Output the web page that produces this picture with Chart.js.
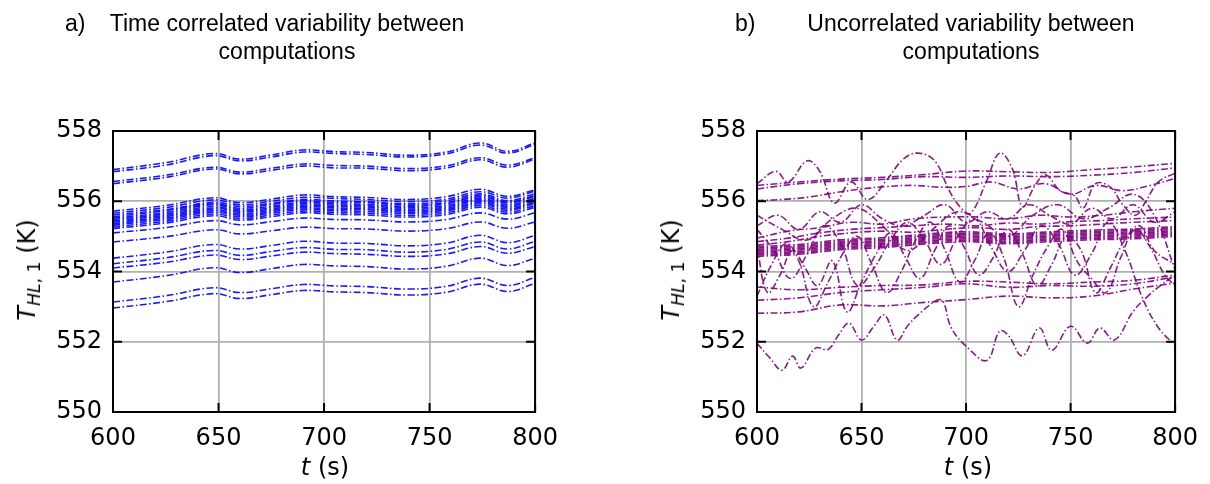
<!DOCTYPE html>
<html>
<head>
<meta charset="utf-8">
<script src="https://cdn.jsdelivr.net/npm/chart.js@4.4.1/dist/chart.umd.min.js"></script>
<style>
  body { margin: 0; background: #fff; }
  #page { position: relative; width: 1210px; height: 484px; overflow: hidden; font-family: "DejaVu Sans", sans-serif; color: #000; }
  canvas { position: absolute; top: 0; }
  .title { position: absolute; font-family: "Liberation Sans", Arial, sans-serif; font-size: 23px; line-height: 23px; white-space: nowrap; }
  .center { transform: translateX(-50%); }
  .ytitle { position: absolute; font-size: 24px; line-height: 24px; white-space: nowrap; transform: translate(-50%, -50%) rotate(-90deg); }
  .xtitle { position: absolute; font-size: 24px; line-height: 24px; white-space: nowrap; transform: translateX(-50%); }
  sub { font-size: 0.72em; vertical-align: -0.3em; line-height: 0; }
</style>
</head>
<body>
<div id="page">
  <canvas id="chartA" width="570" height="484" style="left:0"></canvas>
  <canvas id="chartB" width="590" height="484" style="left:620px"></canvas>

  <div class="title" style="left:65px; top:12px">a)</div>
  <div class="title center" style="left:287px; top:12px">Time correlated variability between</div>
  <div class="title center" style="left:287px; top:40px">computations</div>
  <div class="title" style="left:735px; top:12px">b)</div>
  <div class="title center" style="left:971px; top:12px">Uncorrelated variability between</div>
  <div class="title center" style="left:971px; top:40px">computations</div>

  <div class="ytitle" style="left:27px; top:270px"><i>T</i><sub><i>HL</i>, 1</sub> (K)</div>
  <div class="ytitle" style="left:671px; top:270px"><i>T</i><sub><i>HL</i>, 1</sub> (K)</div>
  <div class="xtitle" style="left:325px; top:455px"><i>t</i> (s)</div>
  <div class="xtitle" style="left:968px; top:455px"><i>t</i> (s)</div>
</div>

<script>
// ---- panel a: time correlated (all runs share the same wiggle) ----
const leftT = [600, 625, 648, 660, 675, 690, 705, 720, 740, 758, 774, 787, 800];

const blueTop1 = [556.90, 557.10, 557.36, 557.20, 557.32, 557.46, 557.41, 557.39, 557.31, 557.40, 557.66, 557.42, 557.66];
const blueTop2 = [556.84, 557.03, 557.30, 557.15, 557.26, 557.40, 557.36, 557.33, 557.26, 557.35, 557.60, 557.37, 557.62];
const blueTop3 = [556.56, 556.74, 556.97, 556.83, 556.94, 557.06, 557.02, 557.00, 556.93, 557.01, 557.24, 557.03, 557.24];
const blueTop4 = [556.50, 556.68, 556.92, 556.78, 556.88, 557.00, 556.95, 556.94, 556.87, 556.95, 557.18, 556.97, 557.20];

const blueBand1 = [555.72, 555.88, 556.10, 555.96, 556.06, 556.18, 556.13, 556.11, 556.05, 556.13, 556.34, 556.14, 556.33];
const blueBand2 = [555.66, 555.82, 556.04, 555.90, 556.00, 556.11, 556.08, 556.05, 555.99, 556.06, 556.27, 556.09, 556.29];
const blueBand3 = [555.61, 555.76, 555.97, 555.85, 555.94, 556.05, 556.01, 555.99, 555.93, 556.01, 556.21, 556.02, 556.22];
const blueBand4 = [555.56, 555.73, 555.93, 555.80, 555.91, 556.01, 555.97, 555.96, 555.89, 555.96, 556.17, 555.98, 556.17];
const blueBand5 = [555.52, 555.68, 555.90, 555.76, 555.86, 555.97, 555.93, 555.91, 555.85, 555.93, 556.13, 555.95, 556.14];
const blueBand6 = [555.48, 555.64, 555.85, 555.72, 555.82, 555.93, 555.89, 555.87, 555.81, 555.88, 556.09, 555.90, 556.09];
const blueBand7 = [555.44, 555.60, 555.81, 555.69, 555.78, 555.89, 555.85, 555.83, 555.77, 555.84, 556.05, 555.86, 556.06];
const blueBand8 = [555.40, 555.56, 555.77, 555.64, 555.74, 555.85, 555.81, 555.79, 555.73, 555.80, 556.01, 555.82, 556.01];
const blueBand9 = [555.36, 555.52, 555.73, 555.60, 555.70, 555.81, 555.77, 555.76, 555.69, 555.76, 555.97, 555.78, 555.97];
const blueBand10 = [555.32, 555.48, 555.69, 555.56, 555.66, 555.77, 555.73, 555.71, 555.65, 555.72, 555.93, 555.74, 555.94];
const blueBand11 = [555.27, 555.43, 555.64, 555.51, 555.61, 555.72, 555.68, 555.66, 555.60, 555.67, 555.88, 555.69, 555.88];
const blueBand12 = [555.22, 555.38, 555.59, 555.46, 555.56, 555.67, 555.63, 555.61, 555.55, 555.62, 555.83, 555.64, 555.83];

const blueLow1 = [555.10, 555.25, 555.45, 555.33, 555.42, 555.52, 555.48, 555.47, 555.41, 555.48, 555.67, 555.49, 555.67];
const blueLow2 = [554.84, 554.99, 555.19, 555.07, 555.16, 555.26, 555.22, 555.21, 555.15, 555.22, 555.41, 555.23, 555.41];
const blueLow3 = [554.38, 554.55, 554.77, 554.64, 554.74, 554.86, 554.81, 554.80, 554.73, 554.81, 555.03, 554.82, 555.03];
const blueLow4 = [554.22, 554.39, 554.60, 554.46, 554.57, 554.68, 554.63, 554.62, 554.55, 554.63, 554.84, 554.64, 554.86];
const blueLow5 = [554.10, 554.26, 554.47, 554.34, 554.44, 554.55, 554.51, 554.49, 554.43, 554.50, 554.71, 554.52, 554.71];
const blueLow6 = [553.70, 553.88, 554.11, 553.97, 554.08, 554.20, 554.16, 554.14, 554.07, 554.15, 554.38, 554.17, 554.38];
const blueLow7 = [553.13, 553.31, 553.54, 553.40, 553.51, 553.63, 553.59, 553.57, 553.50, 553.58, 553.81, 553.60, 553.83];
const blueLow8 = [552.96, 553.14, 553.37, 553.23, 553.34, 553.46, 553.42, 553.40, 553.33, 553.41, 553.64, 553.43, 553.66];

// ---- panel b: uncorrelated ----
const purpleT11 = [600, 620, 640, 660, 680, 700, 720, 740, 760, 780, 800];
const purpleTop1 = [556.45, 556.55, 556.63, 556.68, 556.76, 556.86, 556.84, 556.82, 556.90, 556.98, 557.08];
const purpleTop2 = [556.35, 556.50, 556.58, 556.62, 556.70, 556.68, 556.72, 556.70, 556.74, 556.82, 556.95];
const purpleBand1 = [554.71, 554.77, 554.90, 554.96, 555.06, 555.13, 555.07, 555.13, 555.18, 555.21, 555.28];
const purpleBand2 = [554.67, 554.73, 554.86, 554.92, 555.02, 555.09, 555.03, 555.09, 555.14, 555.17, 555.24];
const purpleBand3 = [554.63, 554.69, 554.82, 554.88, 554.98, 555.05, 554.99, 555.05, 555.10, 555.13, 555.20];
const purpleBand4 = [554.59, 554.65, 554.78, 554.84, 554.94, 555.01, 554.95, 555.01, 555.06, 555.09, 555.16];
const purpleBand5 = [554.55, 554.61, 554.74, 554.80, 554.90, 554.97, 554.91, 554.97, 555.02, 555.05, 555.12];
const purpleBand6 = [554.51, 554.57, 554.70, 554.76, 554.86, 554.93, 554.87, 554.93, 554.98, 555.01, 555.08];
const purpleBand7 = [554.47, 554.53, 554.66, 554.72, 554.82, 554.89, 554.83, 554.89, 554.94, 554.97, 555.04];
const purpleBand8 = [554.43, 554.49, 554.62, 554.68, 554.78, 554.85, 554.79, 554.85, 554.90, 554.93, 555.00];
const purpleLow1 = [553.56, 553.48, 553.55, 553.60, 553.62, 553.72, 553.70, 553.65, 553.70, 553.75, 553.90];
const purpleLow2 = [553.18, 553.25, 553.40, 553.48, 553.55, 553.65, 553.55, 553.60, 553.58, 553.65, 553.85];
const purpleLow3 = [552.81, 552.85, 553.05, 553.02, 553.12, 553.20, 553.30, 553.25, 553.30, 553.50, 553.67];

const purpleT14 = [600, 615, 630, 645, 660, 675, 690, 705, 720, 735, 750, 765, 780, 800];
const purpleMid1 = [554.95, 555.15, 555.25, 555.40, 555.35, 555.50, 555.55, 555.55, 555.50, 555.60, 555.55, 555.60, 555.70, 555.80];
const purpleMid2 = [554.85, 554.95, 555.10, 555.20, 555.25, 555.30, 555.35, 555.30, 555.38, 555.35, 555.42, 555.45, 555.50, 555.55];
const purpleMid3 = [554.75, 554.85, 555.00, 555.10, 555.15, 555.12, 555.20, 555.25, 555.20, 555.28, 555.30, 555.35, 555.40, 555.45];

const wavyTopT = [600, 612, 625, 638, 650, 662, 675, 688, 700, 712, 725, 738, 750, 762, 775, 788, 800];
const wavyTop = [556.02, 556.05, 556.12, 556.25, 556.35, 556.42, 556.45, 556.40, 556.42, 556.55, 556.35, 556.50, 556.20, 556.45, 556.30, 556.45, 556.65];

const wildTopT = [600, 609, 615, 624, 630, 637, 645, 653, 662, 670, 677, 685, 692, 697, 702, 710, 716, 722, 727, 733, 738, 745, 752, 756, 762, 769, 775, 781, 786, 792, 800];
const wildTop = [556.50, 556.85, 556.55, 557.15, 556.85, 555.95, 556.55, 556.05, 556.60, 557.20, 557.37, 557.15, 556.30, 555.85, 555.65, 556.60, 557.37, 556.95, 555.85, 556.45, 556.75, 556.30, 556.15, 555.80, 556.50, 556.40, 555.90, 555.60, 556.00, 556.55, 556.80];

const wildAT = [600, 605, 611, 617, 623, 629, 636, 643, 650, 657, 664, 671, 678, 685, 692, 699, 706, 713, 720, 727, 734, 741, 748, 755, 762, 769, 776, 783, 790, 800];
const wildA = [554.70, 553.40, 553.90, 554.60, 554.10, 553.60, 554.30, 552.85, 553.70, 554.50, 555.10, 554.40, 553.80, 554.60, 555.30, 554.70, 553.90, 554.40, 555.20, 554.50, 553.60, 554.20, 555.00, 554.60, 553.40, 554.10, 554.90, 555.30, 554.60, 554.20];

const wildBT = [600, 607, 614, 620, 627, 634, 641, 648, 655, 662, 669, 676, 683, 690, 697, 704, 711, 718, 725, 732, 739, 746, 753, 760, 767, 774, 781, 788, 795, 800];
const wildB = [553.30, 554.20, 554.80, 554.30, 553.00, 553.70, 554.50, 555.00, 554.20, 553.40, 554.00, 554.90, 555.40, 554.60, 553.70, 554.30, 555.10, 554.40, 553.00, 553.90, 554.70, 555.20, 554.30, 553.80, 553.40, 554.40, 555.20, 554.70, 553.90, 553.60];

const wildCT = [600, 608, 616, 624, 632, 640, 648, 656, 664, 672, 680, 688, 696, 704, 712, 720, 728, 736, 744, 752, 760, 768, 776, 784, 792, 800];
const wildC = [555.20, 554.60, 553.80, 554.50, 555.30, 554.80, 553.60, 554.10, 554.90, 555.40, 554.90, 554.20, 555.00, 555.50, 554.70, 554.00, 554.60, 555.30, 554.80, 553.90, 554.50, 555.40, 554.60, 553.30, 552.40, 551.90];

const wildDT = [600, 610, 620, 630, 640, 650, 660, 670, 680, 690, 700, 710, 720, 730, 740, 750, 760, 770, 780, 790, 800];
const wildD = [555.30, 555.60, 555.20, 555.70, 555.40, 555.90, 555.50, 555.30, 555.60, 555.90, 555.40, 555.70, 555.50, 555.90, 555.60, 555.35, 555.80, 555.50, 555.90, 555.40, 555.70];

const wildET = [600, 612, 624, 636, 648, 660, 672, 684, 696, 708, 720, 732, 744, 756, 768, 780, 790, 800];
const wildE = [555.60, 555.20, 554.90, 555.50, 555.80, 555.30, 554.60, 555.20, 555.70, 555.40, 555.00, 555.60, 555.90, 555.50, 555.80, 556.20, 555.60, 554.05];

const wildLowT = [600, 606, 612, 617, 621, 628, 634, 639, 644, 650, 656, 661, 667, 672, 677, 686, 689, 693, 701, 710, 716, 720, 727, 735, 741, 750, 758, 764, 771, 780, 787, 793, 800];
const wildLow = [551.96, 551.55, 551.19, 551.59, 551.25, 551.82, 551.78, 552.19, 552.53, 552.05, 552.45, 552.76, 552.05, 552.45, 552.76, 553.18, 553.15, 552.39, 551.82, 551.47, 552.30, 552.20, 551.60, 552.39, 551.76, 552.44, 551.96, 552.39, 552.05, 552.87, 553.30, 553.60, 553.90];

const leftLines = [blueTop1, blueTop2, blueTop3, blueTop4,
  blueBand1, blueBand2, blueBand3, blueBand4, blueBand5, blueBand6,
  blueBand7, blueBand8, blueBand9, blueBand10, blueBand11, blueBand12,
  blueLow1, blueLow2, blueLow3, blueLow4, blueLow5, blueLow6, blueLow7, blueLow8
].map(v => [leftT, v]);

const rightLines = [
  [purpleT11, purpleTop1], [purpleT11, purpleTop2], [wavyTopT, wavyTop], [wildTopT, wildTop],
  [purpleT14, purpleMid1], [purpleT14, purpleMid2], [purpleT14, purpleMid3],
  [purpleT11, purpleBand1], [purpleT11, purpleBand2], [purpleT11, purpleBand3], [purpleT11, purpleBand4],
  [purpleT11, purpleBand5], [purpleT11, purpleBand6], [purpleT11, purpleBand7], [purpleT11, purpleBand8],
  [purpleT11, purpleLow1], [purpleT11, purpleLow2], [purpleT11, purpleLow3],
  [wildAT, wildA], [wildBT, wildB], [wildCT, wildC], [wildDT, wildD], [wildET, wildE],
  [wildLowT, wildLow]
];

// inward tick marks on all four sides + black frame
const frameTicks = {
  id: 'frameTicks',
  afterDatasetsDraw(chart) {
    const { ctx, chartArea: a } = chart;
    const x = chart.scales.x, y = chart.scales.y;
    const len = 9;
    ctx.save();
    ctx.strokeStyle = '#000';
    ctx.lineWidth = 2;
    ctx.beginPath();
    x.ticks.forEach(t => {
      const px = x.getPixelForValue(t.value);
      ctx.moveTo(px, a.bottom); ctx.lineTo(px, a.bottom - len);
      ctx.moveTo(px, a.top); ctx.lineTo(px, a.top + len);
    });
    y.ticks.forEach(t => {
      const py = y.getPixelForValue(t.value);
      ctx.moveTo(a.left, py); ctx.lineTo(a.left + len, py);
      ctx.moveTo(a.right, py); ctx.lineTo(a.right - len, py);
    });
    ctx.stroke();
    ctx.strokeRect(a.left, a.top, a.right - a.left, a.bottom - a.top);
    ctx.restore();
  }
};

function makeChart(id, lines, color, yWidth, padRight) {
  const tickFont = { family: 'DejaVu Sans', size: 24 };
  const grid = { color: '#b0b0b0', lineWidth: 1.8, drawTicks: false };
  return new Chart(document.getElementById(id), {
    type: 'line',
    data: {
      datasets: lines.map(([times, vals]) => ({
        data: times.map((t, i) => ({ x: t, y: vals[i] })),
        borderColor: color,
        borderWidth: 1.6,
        borderDash: [7, 2.5, 1.5, 2.5],
        pointRadius: 0,
        tension: 0.4,
        fill: false
      }))
    },
    options: {
      responsive: false,
      animation: false,
      events: [],
      layout: { padding: { left: 0, top: 131, right: padRight, bottom: 32 } },
      plugins: { legend: { display: false }, tooltip: { enabled: false } },
      scales: {
        x: {
          type: 'linear', min: 600, max: 800,
          afterFit: s => { s.height = 40; },
          ticks: { stepSize: 50, autoSkip: false, maxRotation: 0, color: '#000', font: tickFont, padding: 12 },
          grid: grid,
          border: { display: false }
        },
        y: {
          min: 550, max: 558,
          afterFit: s => { s.width = yWidth; },
          ticks: { stepSize: 2, autoSkip: false, color: '#000', font: tickFont, padding: 11 },
          grid: grid,
          border: { display: false }
        }
      }
    },
    plugins: [frameTicks]
  });
}

makeChart('chartA', leftLines, 'rgba(0, 0, 255, 0.9)', 113, 34);
makeChart('chartB', rightLines, 'rgba(128, 0, 128, 0.9)', 137, 32);
</script>
</body>
</html>
